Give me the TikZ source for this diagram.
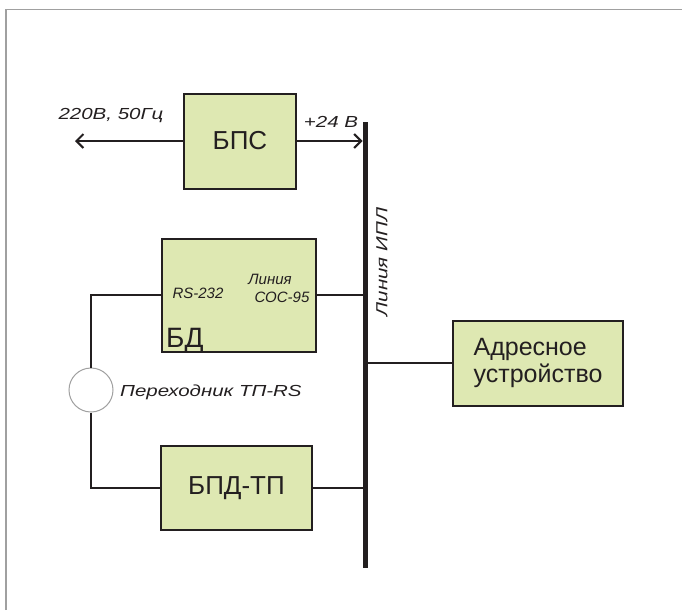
\documentclass[tikz,border=0pt]{standalone}
\usepackage{fontspec}
\setmainfont{Liberation Sans}
\newfontfamily\widefont[FakeStretch=1.28]{Liberation Sans}
\usetikzlibrary{arrows.meta,calc}
\definecolor{boxfill}{RGB}{222,232,178}
\definecolor{boxline}{RGB}{35,31,32}
\definecolor{framegray}{RGB}{160,160,160}
\begin{document}
\begin{tikzpicture}[x=1pt,y=-1pt,
  block/.style={draw=boxline,fill=boxfill,line width=2pt,inner sep=0pt,anchor=center},
  wire/.style={draw=boxline,line width=2pt},
  bigtxt/.style={font=\fontsize{26}{30}\selectfont,text=boxline,inner sep=0pt},
  smalltxt/.style={font=\fontsize{15}{17}\selectfont\itshape,text=boxline,inner sep=0pt},
  widetxt/.style={font=\widefont\fontsize{16}{18}\selectfont\itshape,text=boxline,inner sep=0pt},
  barb/.style={-{Straight Barb[length=7pt,width=14pt,line width=2pt]}}
]
\useasboundingbox (0,0) rectangle (682,610);
% frame
\draw[framegray,line width=1.5pt] (6,610) -- (6,9.5) -- (682,9.5);
% blocks
\node[block,minimum width=112pt,minimum height=95pt] (bps) at (240,141) {};
\node[bigtxt] (bpst) at (bps.center) {БПС};
\node[block,minimum width=154pt,minimum height=113pt] (bd) at (239,295) {};
\node[block,minimum width=151pt,minimum height=84pt] (bpd) at (236.5,488) {};
\node[bigtxt] (bpdt) at (bpd.center) {БПД-ТП};
\node[block,minimum width=170pt,minimum height=85pt] (addr) at (538,363) {};
\node[bigtxt,align=left,font=\fontsize{25}{27}\selectfont] (addrt) at (addr.center) {Адресное\\устройство};
% circle adapter
\node[draw=framegray,fill=white,line width=1pt,circle,minimum size=44pt,inner sep=0pt] (circ) at (91,390) {};
% bus
\coordinate (bustop) at (365,122);
\coordinate (busbot) at (365,568);
\draw[boxline,line width=5pt] (bustop) -- (busbot);
% connectors
\coordinate (mains) at (75,141);
\draw[wire,barb] (bps.west) -- (mains);
\draw[wire,barb,shorten >=2.5pt] (bps.east) -- (bps.east -| bustop);
\draw[wire] (bd.east) -- (bd.east -| bustop);
\draw[wire] (bpd.east) -- (bpd.east -| bustop);
\draw[wire] (addr.west) -- (addr.west -| bustop);
\draw[wire] (bd.west) -| (circ.north);
\draw[wire] (circ.south) |- (bpd.west);
% texts
\node[bigtxt,font=\fontsize{28}{30}\selectfont,anchor=base west] (bdt) at (166,347) {БД};
\node[smalltxt] (rs) at (198,293) {RS-232};
\node[smalltxt] (lin1) at (270,279) {Линия};
\node[smalltxt] (lin2) at (282,297) {СОС-95};
\node[widetxt] (mainst) at (111,116) {220В, 50Гц};
\node[widetxt] (v24) at (331,122) {+24 В};
\node[widetxt,rotate=90] (ipl) at (382,262) {Линия ИПЛ};
\node[widetxt,anchor=west] (adp) at (120,392) {Переходник ТП-RS};
\end{tikzpicture}
\end{document}
